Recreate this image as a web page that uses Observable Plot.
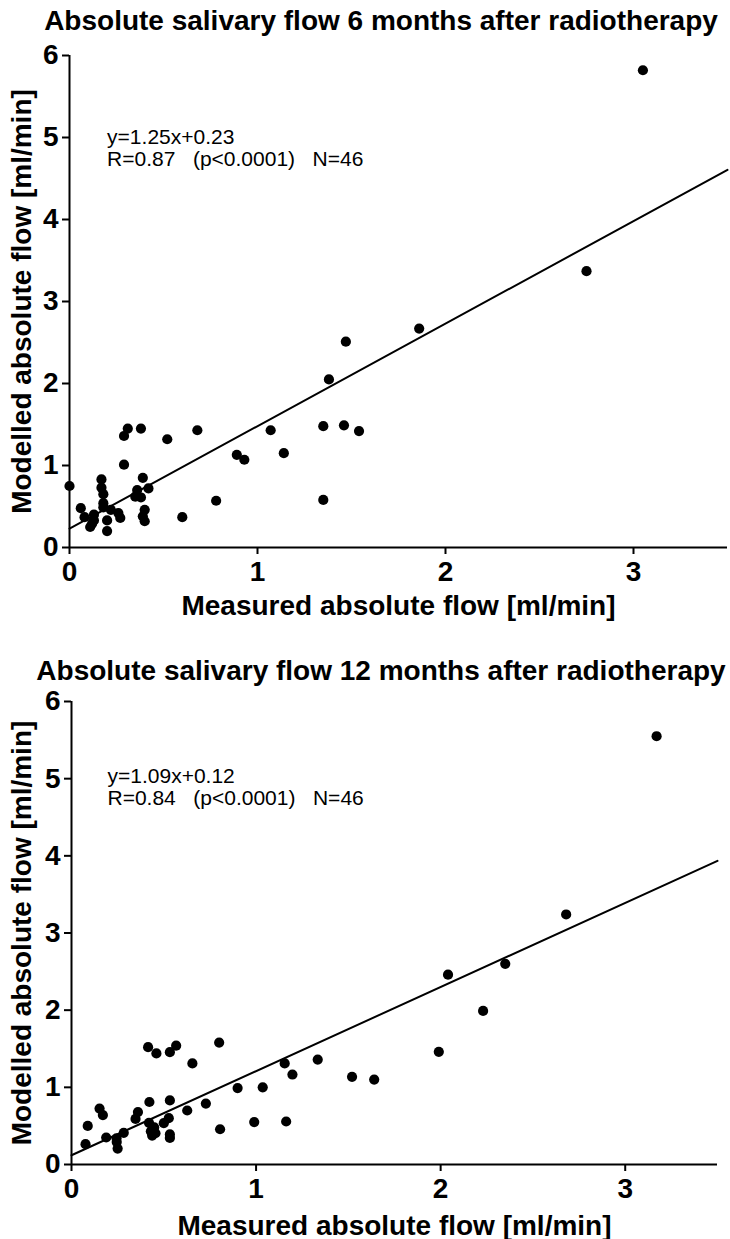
<!DOCTYPE html>
<html>
<head>
<meta charset="utf-8">
<script src="https://cdn.jsdelivr.net/npm/d3@7"></script>
<script src="https://cdn.jsdelivr.net/npm/@observablehq/plot@0.6"></script>
<style>
  html, body { margin: 0; padding: 0; background: #fff; }
  body { width: 730px; height: 1239px; position: relative; overflow: hidden; font-family: "Liberation Sans", Arial, sans-serif; }
  .title { position: absolute; left: 0; width: 730px; text-align: center; font-weight: bold; font-size: 28px; line-height: 32px; color: #000; z-index: 2; white-space: nowrap; }
  .panel { position: absolute; left: 0; z-index: 1; }
  .panel svg { background: transparent !important; }
</style>
</head>
<body>
<div class="title" id="t1" style="top:5px;padding-left:32px;box-sizing:border-box;"></div>
<div class="panel" id="p1" style="top:40px;"></div>
<div class="title" id="t2" style="top:655px;padding-left:32px;box-sizing:border-box;"></div>
<div class="panel" id="p2" style="top:688px;"></div>
<script>
// ---- data ----
const titles = [
  "Absolute salivary flow 6 months after radiotherapy",
  "Absolute salivary flow 12 months after radiotherapy"
];
const xLabel = "Measured absolute flow [ml/min]";
const yLabel = "Modelled absolute flow [ml/min]";
const xTicks = [0, 1, 2, 3];
const yTicks = [0, 1, 2, 3, 4, 5, 6];

// 6 months
const measured6 = [0.00, 0.06, 0.08, 0.11, 0.13, 0.13, 0.17, 0.17, 0.18, 0.18, 0.18, 0.20, 0.20, 0.22, 0.26, 0.27,
  0.29, 0.29, 0.31, 0.35, 0.36, 0.38, 0.38, 0.39, 0.40, 0.40, 0.42, 0.39, 0.52, 0.60, 0.68, 0.78, 0.89, 0.93,
  1.07, 1.14, 1.35, 1.35, 1.38, 1.46, 1.47, 1.54, 1.86, 2.75, 3.05, 0.12];
const modelled6 = [0.75, 0.48, 0.37, 0.25, 0.33, 0.40, 0.83, 0.73, 0.65, 0.54, 0.49, 0.33, 0.20, 0.46, 0.42, 0.36,
  1.01, 1.36, 1.45, 0.62, 0.70, 1.45, 0.61, 0.85, 0.46, 0.32, 0.72, 0.38, 1.32, 0.37, 1.43, 0.57, 1.13, 1.07,
  1.43, 1.15, 1.48, 0.58, 2.05, 1.49, 2.51, 1.42, 2.67, 3.37, 5.82, 0.29];

// 12 months
const measured12 = [0.415, 0.46, 0.533, 0.567, 0.80, 0.655, 0.90, 0.99, 0.422, 0.533, 0.627, 0.728, 0.152, 0.17,
  0.36, 0.347, 0.42, 0.448, 0.50, 0.527, 0.43, 0.455, 0.437, 0.533, 0.533, 0.805, 0.088, 0.076, 0.188, 0.244,
  0.25, 0.283, 1.155, 1.334, 1.197, 1.52, 1.64, 1.036, 1.163, 2.04, 1.99, 2.23, 2.35, 2.68, 3.17, 0.245];
const modelled12 = [1.52, 1.44, 1.455, 1.54, 1.58, 1.31, 0.99, 0.55, 0.81, 0.83, 0.70, 0.79, 0.725, 0.64,
  0.68, 0.59, 0.54, 0.48, 0.535, 0.60, 0.43, 0.405, 0.375, 0.39, 0.345, 0.457, 0.50, 0.263, 0.35, 0.34,
  0.207, 0.41, 1.31, 1.36, 1.166, 1.136, 1.10, 1.00, 0.557, 2.46, 1.46, 1.99, 2.60, 3.24, 5.55, 0.29];

const fitSlopes = [1.25, 1.09];
const fitIntercepts = [0.23, 0.12];
const statText = [
  ["y=1.25x+0.23", "R=0.87   (p<0.0001)   N=46"],
  ["y=1.09x+0.12", "R=0.84   (p<0.0001)   N=46"]
];
const xDomain = [0, 3.5];
const yDomain = [0, 6];

// ---- drawing ----
function panel(mx, my, slope, intercept, stats, lay) {
  const pts = mx.map((x, i) => ({x, y: my[i]}));
  const fit = xDomain.map(x => ({x, y: slope * x + intercept}));
  return Plot.plot({
    width: 730,
    height: lay.height,
    marginTop: lay.mt, marginBottom: lay.mb, marginLeft: lay.ml, marginRight: lay.mr,
    style: {fontFamily: "Liberation Sans, Arial, sans-serif", fontSize: "24px", fontWeight: "bold", color: "#000", background: "transparent", overflow: "visible"},
    x: {domain: xDomain},
    y: {domain: yDomain},
    marks: [
      Plot.axisX({ticks: xTicks, tickSize: 7, tickPadding: 7, tickFormat: d => String(d), strokeWidth: 2,
        label: xLabel, labelAnchor: "center", labelOffset: lay.xlo, labelArrow: "none", fontSize: 28}),
      Plot.axisY({ticks: yTicks, tickSize: 7, tickPadding: 4, tickFormat: d => String(d), strokeWidth: 2,
        label: yLabel, labelAnchor: "center", labelOffset: lay.ylo, labelArrow: "none", fontSize: 28}),
      Plot.ruleY([0], {x1: xDomain[0], x2: xDomain[1], stroke: "#000", strokeWidth: 2}),
      Plot.ruleX([0], {y1: yDomain[0], y2: yDomain[1], stroke: "#000", strokeWidth: 2}),
      Plot.line(fit, {x: "x", y: "y", stroke: "#000", strokeWidth: 2}),
      Plot.dot(pts, {x: "x", y: "y", r: 5.1, fill: "#000", stroke: "none"}),
      Plot.text([stats.join("\n")], {x: lay.tx, y: lay.ty, textAnchor: "start", lineAnchor: "middle",
        fontWeight: "normal", fontSize: 21, lineHeight: 1.02, fill: "#000"})
    ]
  });
}

document.getElementById("t1").textContent = titles[0];
document.getElementById("t2").textContent = titles[1];

document.getElementById("p1").appendChild(panel(measured6, modelled6, fitSlopes[0], fitIntercepts[0], statText[0],
  {height: 580, mt: 15, mb: 73, ml: 69, mr: 3, xlo: 67, ylo: 58, tx: 0.2, ty: 4.87}));
document.getElementById("p2").appendChild(panel(measured12, modelled12, fitSlopes[1], fitIntercepts[1], statText[1],
  {height: 551, mt: 13, mb: 75, ml: 71, mr: 13, xlo: 70, ylo: 60, tx: 0.195, ty: 4.89}));
</script>
</body>
</html>
